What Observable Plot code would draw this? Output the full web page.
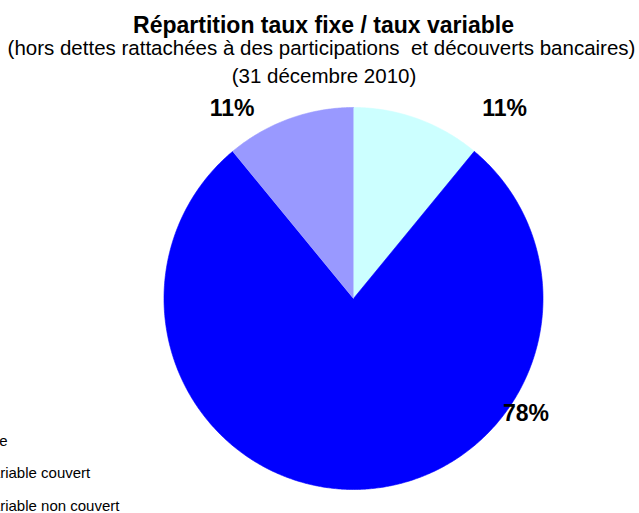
<!DOCTYPE html>
<html>
<head>
<meta charset="utf-8">
<script src="https://cdn.jsdelivr.net/npm/d3@7"></script>
<script src="https://cdn.jsdelivr.net/npm/@observablehq/plot@0.6"></script>
<style>
  html, body { margin: 0; padding: 0; background: #fff; }
  #chart { width: 639px; height: 513px; overflow: hidden; }
</style>
</head>
<body>
<div id="chart"></div>
<script>
const categories = ["Taux fixe", "Taux variable couvert", "Taux variable non couvert"];
const shares = [11, 78, 11];
const colors = ["#CCFFFF", "#0000FF", "#9999FF"];
const labelX = [0.797, 0.910, -0.641];
const labelY = [0.958, -0.639, 0.953];
const titleText = "Répartition taux fixe / taux variable";
const subtitleLines = [
  "(hors dettes rattachées à des participations  et découverts bancaires)",
  "(31 décembre 2010)"
];

const arcs = d3.pie().sort(null).value(d => d)(shares);
const points = [];
arcs.forEach((a, i) => {
  const cat = categories[i];
  points.push({cat, x: 0, y: 0});
  const n = Math.max(8, Math.ceil((a.endAngle - a.startAngle) / (Math.PI / 360)));
  for (let k = 0; k <= n; k++) {
    const t = a.startAngle + (a.endAngle - a.startAngle) * k / n;
    points.push({cat, x: Math.sin(t), y: Math.cos(t)});
  }
});

const font = "'Liberation Sans', Arial, sans-serif";

const legendMarks = categories.map((c, i) =>
  Plot.text([c], {
    text: d => d,
    frameAnchor: "bottom-left",
    textAnchor: "start",
    lineAnchor: "bottom",
    dx: -215.5,
    dy: -44 + i * 32.5,
    fontSize: 15,
    fill: "black"
  })
);

const chart = Plot.plot({
  width: 639,
  height: 513,
  marginLeft: 163.5,
  marginRight: 96.5,
  marginTop: 107,
  marginBottom: 24,
  x: {domain: [-1, 1], axis: null},
  y: {domain: [-1, 1], axis: null},
  color: {domain: categories, range: colors},
  style: {fontFamily: font, background: "white", overflow: "hidden"},
  marks: [
    Plot.line(points, {x: "x", y: "y", z: "cat", fill: "cat", stroke: "cat", strokeWidth: 0.6}),
    Plot.text(d3.range(shares.length), {
      x: i => labelX[i],
      y: i => labelY[i],
      text: i => shares[i] + "%",
      fontWeight: "bold",
      fontSize: 23,
      lineAnchor: "bottom",
      textAnchor: "middle",
      fill: "black"
    }),
    Plot.text([titleText], {
      text: d => d, frameAnchor: "top", lineAnchor: "bottom",
      dx: -30, dy: -75, fontSize: 23, fontWeight: "bold", fill: "black"
    }),
    Plot.text([subtitleLines[0]], {
      text: d => d, frameAnchor: "top", lineAnchor: "bottom",
      dx: -32, dy: -53, fontSize: 20.5, fill: "black"
    }),
    Plot.text([subtitleLines[1]], {
      text: d => d, frameAnchor: "top", lineAnchor: "bottom",
      dx: -29.5, dy: -25, fontSize: 20.5, fill: "black"
    }),
    ...legendMarks
  ]
});
document.getElementById("chart").appendChild(chart);
</script>
</body>
</html>
